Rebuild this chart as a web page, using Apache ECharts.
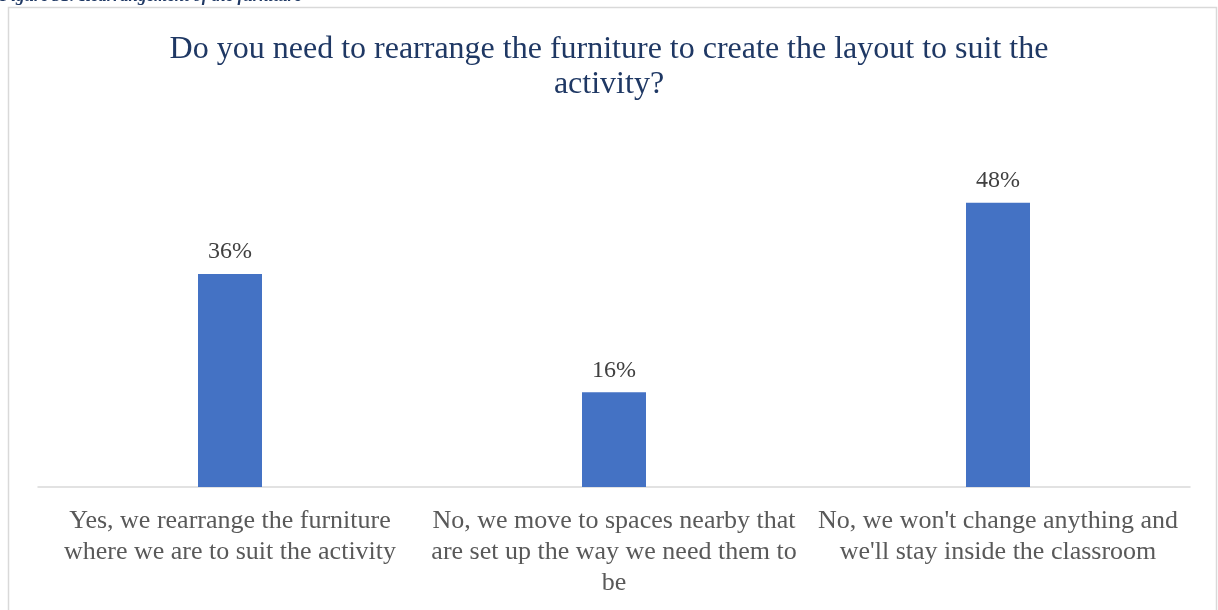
<!DOCTYPE html>
<html>
<head>
<meta charset="utf-8">
<script src="https://cdn.jsdelivr.net/npm/echarts@6/dist/echarts.min.js"></script>
<style>
  html, body { margin: 0; padding: 0; background: #ffffff; }
  #chart { width: 1218px; height: 610px; }
</style>
</head>
<body>
<div id="chart"></div>
<script>
// Survey answers (wrapped as they appear under the axis)
const categories = [
  "Yes, we rearrange the furniture\nwhere we are to suit the activity",
  "No, we move to spaces nearby that\nare set up the way we need them to\nbe",
  "No, we won't change anything and\nwe'll stay inside the classroom"
];
// Share of respondents, percent
const shares = [36, 16, 48];

const serif = "'Liberation Serif', 'Times New Roman', serif";

const chart = echarts.init(document.getElementById('chart'), null, { renderer: 'canvas' });

chart.setOption({
  backgroundColor: '#ffffff',
  animation: false,
  title: {
    text: 'Do you need to rearrange the furniture to create the layout to suit the\nactivity?',
    left: 'center',
    top: 32,
    padding: 0,
    textStyle: {
      fontFamily: serif,
      fontSize: 32,
      fontWeight: 'normal',
      color: '#1f3864',
      lineHeight: 35
    }
  },
  graphic: [
    {
      type: 'rect',
      shape: { x: 8.5, y: 7.5, width: 1208, height: 620 },
      style: { fill: 'none', stroke: '#d9d9d9', lineWidth: 1.5 },
      silent: true
    },
    {
      type: 'text',
      left: 0,
      top: -12,
      style: {
        text: 'Figure 31: Rearrangement of the furniture',
        font: 'italic bold 17px ' + serif,
        fill: '#1f3864'
      },
      silent: true
    }
  ],
  grid: { left: 38, width: 1152, top: 191, height: 296 },
  xAxis: {
    type: 'category',
    data: categories,
    axisTick: { show: false },
    axisLine: { lineStyle: { color: '#d9d9d9', width: 1.5 } },
    axisLabel: {
      interval: 0,
      margin: 19,
      fontFamily: serif,
      fontSize: 26,
      lineHeight: 31,
      color: '#595959',
      align: 'center'
    }
  },
  yAxis: {
    type: 'value',
    min: 0,
    max: 50,
    show: false,
    splitLine: { show: false }
  },
  series: [{
    type: 'bar',
    data: shares,
    barWidth: 64,
    itemStyle: { color: '#4472c4' },
    label: {
      show: true,
      position: 'top',
      distance: 10,
      formatter: p => p.value + '%',
      fontFamily: serif,
      fontSize: 24,
      color: '#404040'
    }
  }]
});
</script>
</body>
</html>
